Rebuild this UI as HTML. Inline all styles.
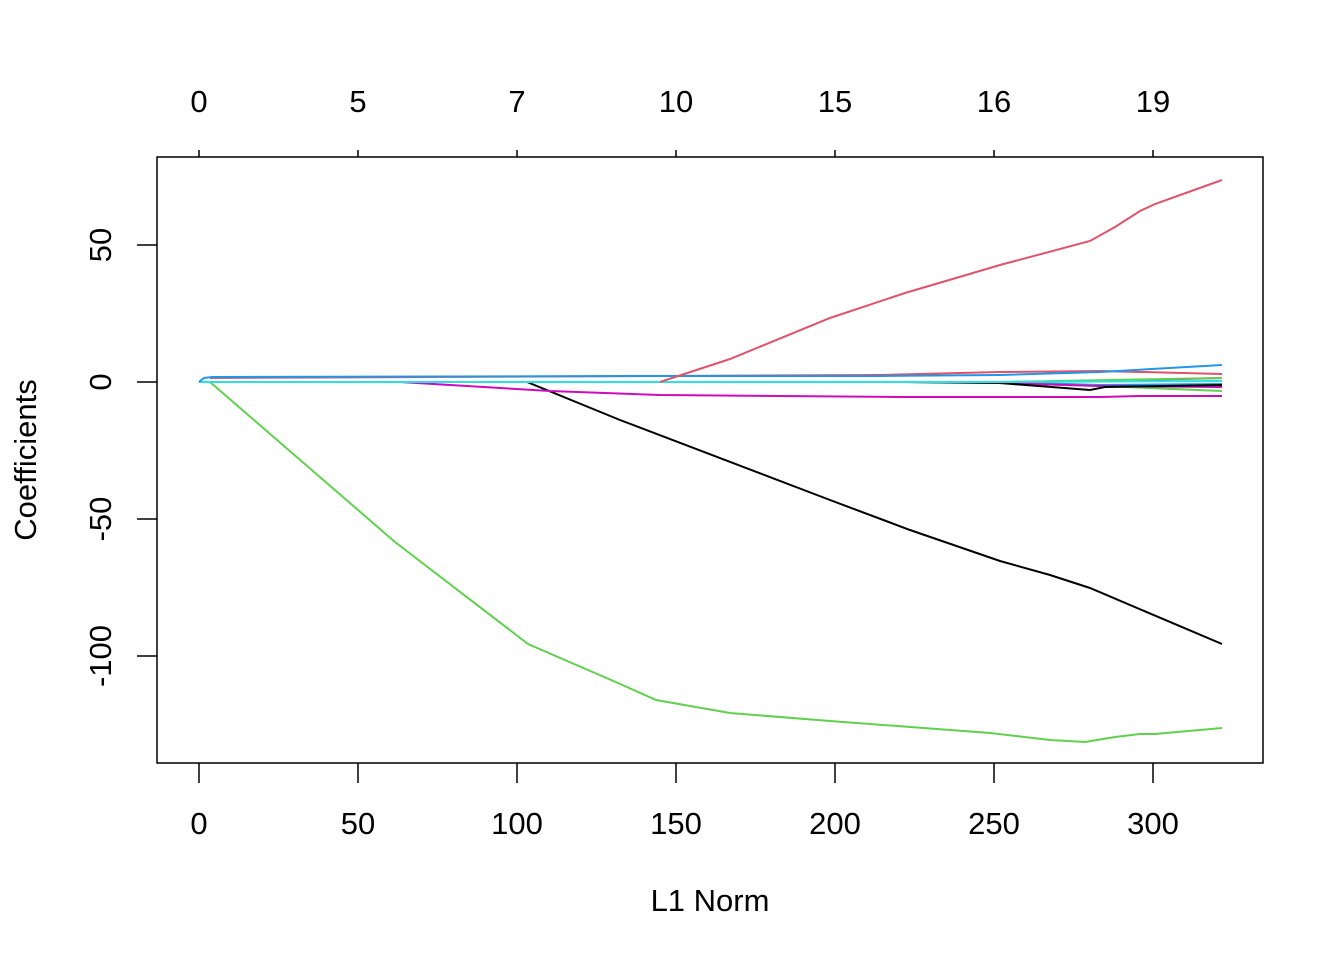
<!DOCTYPE html>
<html><head><style>body{margin:0;background:#fff}svg{display:block}</style></head><body>
<svg width="1344" height="960" xmlns="http://www.w3.org/2000/svg" font-family="Liberation Sans, sans-serif" font-size="31">
<rect width="1344" height="960" fill="#fff"/>
<g stroke="#000" stroke-width="1.5" fill="none">
<rect x="157" y="157" width="1106" height="606"/>
<path d="M199 763v20M358 763v20M517 763v20M676 763v20M835 763v20M994 763v20M1153 763v20"/>
<path d="M199 157v-7M358 157v-7M517 157v-7M676 157v-7M835 157v-7M994 157v-7M1153 157v-7"/>
<path d="M157 245h-20M157 382h-20M157 519h-20M157 656h-20"/>
</g>
<g text-anchor="middle">
<text x="199" y="834">0</text><text x="358" y="834">50</text><text x="517" y="834">100</text><text x="676" y="834">150</text><text x="835" y="834">200</text><text x="994" y="834">250</text><text x="1153" y="834">300</text>
<text x="199" y="112">0</text><text x="358" y="112">5</text><text x="517" y="112">7</text><text x="676" y="112">10</text><text x="835" y="112">15</text><text x="994" y="112">16</text><text x="1153" y="112">19</text>
<text x="710" y="911">L1 Norm</text>
<text transform="translate(111,245) rotate(-90)">50</text>
<text transform="translate(111,382) rotate(-90)">0</text>
<text transform="translate(111,519) rotate(-90)">-50</text>
<text transform="translate(111,656) rotate(-90)">-100</text>
<text transform="translate(36,460) rotate(-90)">Coefficients</text>
</g>
<g fill="none" stroke-width="2">
<polyline stroke="#2297E6" points="1000,382 1100,385 1222,384"/>
<polyline stroke="#61D04F" points="1000,383 1100,386 1222,391"/>
<polyline stroke="#CD0BBC" points="1000,382 1100,381 1222,378"/>
<polyline stroke="#CD0BBC" points="1000,383 1100,386 1222,387"/>
<polyline stroke="#61D04F" points="1000,382 1222,378"/>
<polyline stroke="#000" points="199,382 527,382 620,420 830,500 910,530 1000,561 1050,575 1090,588 1222,644"/>
<polyline stroke="#000" points="900,382 1000,383 1090,390 1105,387 1222,385"/>
<polyline stroke="#61D04F" points="199,382 210,382 395,542 528,644 618,683 656,700 730,713 830,721 990,733 1050,740 1085,742 1115,737 1140,734 1155,734 1222,728"/>
<polyline stroke="#CD0BBC" points="199,382 400,382 550,391 660,395 900,397 1100,397 1140,396 1222,396"/>
<polyline stroke="#DF536B" points="210,378 880,375 1000,372 1100,371 1222,374"/>
<polyline stroke="#28E2E5" points="199,382 1000,382 1222,381"/>
<polyline stroke="#2297E6" points="199,382 204,378 212,377 660,376 880,376 1000,375 1100,372 1222,365"/>
<polyline stroke="#DF536B" points="660,382 730,359 830,318 905,293 1000,265 1090,241 1115,227 1140,211 1155,204 1222,180"/>
</g>
</svg>
</body></html>
